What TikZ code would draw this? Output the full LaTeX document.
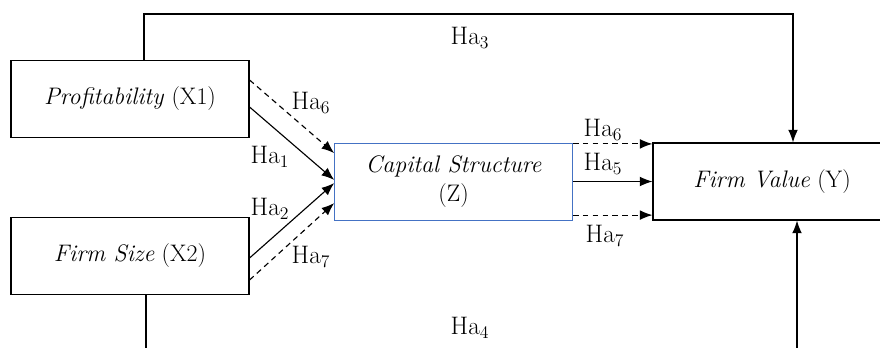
\documentclass[tikz,border=0pt]{standalone}
\usepackage{xcolor}
\usepackage{tikz}
\usetikzlibrary{arrows.meta, positioning, calc}

\definecolor{capblue}{RGB}{68,114,196}
\newcommand{\hyp}[1]{Ha\textsubscript{#1}}

\begin{document}
\begin{tikzpicture}[
    var/.style={draw, line width=0.8pt, minimum width=5.95cm, minimum height=1.925cm,
                align=center, font=\fontsize{17}{21}\selectfont},
    med/.style={var, draw=capblue, line width=0.6pt},
    arr/.style={-{Latex[length=9pt,width=7pt]}, line width=0.8pt},
    darr/.style={arr, dash pattern=on 4pt off 3pt},
    lab/.style={font=\fontsize{18}{22}\selectfont, inner sep=0pt}
]
\useasboundingbox (0,0) rectangle (22,8.675);

\node[var]  (prof) at (3.25, 6.2)     {\textit{Profitability} (X1)};
\node[var]  (size) at (3.25, 2.275)   {\textit{Firm Size} (X2)};
\node[med]  (cap)  at (11.34, 4.1375) {\textit{Capital Structure}\\(Z)};
\node[var]  (fv)   at (19.3, 4.1375)  {\textit{Firm Value} (Y)};

% direct paths round the outside
\coordinate (t1) at (3.6, 8.325);
\coordinate (t2) at (19.825, 8.325);
\coordinate (b1) at (3.65, -0.4);
\coordinate (b2) at (19.925, -0.4);
\draw[arr] (t1 |- prof.north) -- (t1) -- (t2) -- (t2 |- fv.north);
\draw[arr] (b1 |- size.south) -- (b1) -- (b2) -- (b2 |- fv.south);

% into the mediator
\draw[darr] ($(prof.east)+(0,0.475)$) -- ($(cap.west)+(0,0.71)$);
\draw[arr]  ($(prof.east)+(0,-0.2)$)  -- ($(cap.west)+(0,0.04)$);
\draw[arr]  ($(size.east)+(0,-0.05)$) -- ($(cap.west)+(0,-0.04)$);
\draw[darr] ($(size.east)+(0,-0.6)$)  -- ($(cap.west)+(0,-0.54)$);

% mediator to firm value
\draw[darr] ($(cap.east)+(0,0.94)$)  -- ($(fv.west)+(0,0.94)$);
\draw[arr]  (cap.east) -- (fv.west);
\draw[darr] ($(cap.east)+(0,-0.84)$) -- ($(fv.west)+(0,-0.84)$);

\node[lab] (h3)  at (11.75, 7.725) {\hyp{3}};
\node[lab] (h4)  at (11.75, 0.475) {\hyp{4}};
\node[lab] (h6a) at (7.775, 6.1)   {\hyp{6}};
\node[lab] (h1)  at (6.75, 4.75)   {\hyp{1}};
\node[lab] (h2)  at (6.75, 3.45)   {\hyp{2}};
\node[lab] (h7a) at (7.775, 2.25)  {\hyp{7}};
\node[lab] (h6b) at (15.075, 5.425) {\hyp{6}};
\node[lab] (h5)  at (15.075, 4.575) {\hyp{5}};
\node[lab] (h7b) at (15.125, 2.775) {\hyp{7}};
\end{tikzpicture}
\end{document}
